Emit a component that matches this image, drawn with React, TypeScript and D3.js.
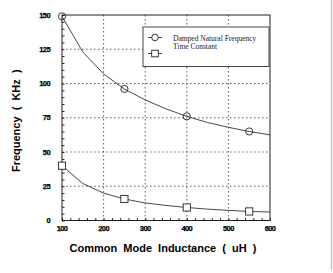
import React, { useEffect, useRef } from 'react';
import * as d3 from 'd3';

// inductance (uH) sampled along the curves
const lineX = [100, 150, 200, 250, 300, 350, 400, 450, 500, 550, 600];
const freqLine = [149, 123, 107, 96, 88, 81.5, 76, 71.5, 68, 65, 62.5];
const timeLine = [40, 27, 20, 15.7, 12.8, 11, 9.5, 8.3, 7.4, 6.6, 6.2];

// marker positions
const markerX = [100, 250, 400, 550];
const freqMarkers = [149, 96, 76, 65];
const timeMarkers = [40, 15.7, 9.5, 6.6];

const xTicks = [100, 200, 300, 400, 500, 600];
const yTicks = [0, 25, 50, 75, 100, 125, 150];
const legendLabels = ['Damped Natural Frequency', 'Time Constant'];

const SANS = 'Liberation Sans, Arial, sans-serif';

function App() {
  const ref = useRef<SVGSVGElement>(null);

  useEffect(() => {
    const svg = d3.select(ref.current);
    svg.selectAll('*').remove();

    const x = d3.scaleLinear().domain([100, 600]).range([62, 270]);
    const y = d3.scaleLinear().domain([0, 150]).range([220.5, 15]);

    // gray page edge on the right
    svg.append('line')
      .attr('x1', 331.5).attr('x2', 331.5).attr('y1', 0).attr('y2', 270)
      .attr('stroke', '#c4c4c4').attr('stroke-width', 1.5);

    const g = svg.append('g');

    // dotted grid
    g.selectAll('.gx').data(xTicks.slice(1, -1)).enter().append('line')
      .attr('x1', d => x(d)).attr('x2', d => x(d))
      .attr('y1', y(0)).attr('y2', y(150))
      .attr('stroke', '#333').attr('stroke-width', 0.8).attr('stroke-dasharray', '1.5,2.5');
    g.selectAll('.gy').data(yTicks.slice(1, -1)).enter().append('line')
      .attr('x1', x(100)).attr('x2', x(600))
      .attr('y1', d => y(d)).attr('y2', d => y(d))
      .attr('stroke', '#333').attr('stroke-width', 0.8).attr('stroke-dasharray', '1.5,2.5');

    // frame
    g.append('rect')
      .attr('x', x(100)).attr('y', y(150))
      .attr('width', x(600) - x(100)).attr('height', y(0) - y(150))
      .attr('fill', 'none').attr('stroke', '#222').attr('stroke-width', 1);

    // inward ticks
    const xAxis = d3.axisTop(x).tickValues(d3.range(100, 601, 20)).tickSize(2.5).tickFormat(() => '');
    g.append('g').attr('transform', `translate(0,${y(0)})`).call(xAxis)
      .call(s => s.select('.domain').remove())
      .call(s => s.selectAll('line').attr('stroke', '#222'));
    const yAxis = d3.axisRight(y).tickValues(d3.range(0, 151, 5)).tickSize(2.5).tickFormat(() => '');
    g.append('g').attr('transform', `translate(${x(100)},0)`).call(yAxis)
      .call(s => s.select('.domain').remove())
      .call(s => s.selectAll('line').attr('stroke', '#222'));

    // tick labels
    g.selectAll('.xl').data(xTicks).enter().append('text')
      .attr('x', d => x(d)).attr('y', y(0) + 10)
      .attr('text-anchor', 'middle').attr('letter-spacing', -0.6)
      .attr('font-family', SANS).attr('font-weight', 'bold').attr('font-size', 7.5)
      .attr('stroke', '#000').attr('stroke-width', 0.25)
      .text(d => d);
    g.selectAll('.yl').data(yTicks).enter().append('text')
      .attr('x', x(100) - 12).attr('y', d => y(d) + 2.5)
      .attr('text-anchor', 'end').attr('letter-spacing', -0.6)
      .attr('font-family', SANS).attr('font-weight', 'bold').attr('font-size', 7.5)
      .attr('stroke', '#000').attr('stroke-width', 0.25)
      .text(d => d);

    // titles
    svg.append('text')
      .attr('x', 163).attr('y', 251.5).attr('text-anchor', 'middle')
      .attr('font-family', SANS).attr('font-weight', 'bold').attr('font-size', 11)
      .attr('xml:space', 'preserve')
      .text('Common  Mode  Inductance  (  uH  )');
    svg.append('text')
      .attr('transform', `translate(20,${(y(0) + y(150)) / 2 + 3}) rotate(-90)`)
      .attr('text-anchor', 'middle')
      .attr('font-family', SANS).attr('font-weight', 'bold').attr('font-size', 11)
      .attr('xml:space', 'preserve')
      .text('Frequency  (  KHz  )');

    // curves
    const line = d3.line<number>().x((_, i) => x(lineX[i])).y(d => y(d));
    [freqLine, timeLine].forEach(vals => {
      g.append('path').attr('d', line(vals)).attr('fill', 'none')
        .attr('stroke', '#333').attr('stroke-width', 0.9);
    });

    g.selectAll('.cm').data(freqMarkers).enter().append('circle')
      .attr('cx', (_, i) => x(markerX[i])).attr('cy', d => y(d)).attr('r', 3.6)
      .attr('fill', 'none').attr('stroke', '#222').attr('stroke-width', 0.9);
    g.selectAll('.sm').data(timeMarkers).enter().append('rect')
      .attr('x', (_, i) => x(markerX[i]) - 3.6).attr('y', d => y(d) - 3.6)
      .attr('width', 7.2).attr('height', 7.2)
      .attr('fill', 'white').attr('stroke', '#222').attr('stroke-width', 0.9);

    // legend
    const lg = svg.append('g');
    lg.append('rect').attr('x', 143).attr('y', 27).attr('width', 126).attr('height', 39.5)
      .attr('fill', 'white').attr('stroke', '#444').attr('stroke-width', 1);
    legendLabels.forEach((t, i) => {
      const my = i === 0 ? 37.5 : 53.5;
      lg.append('line').attr('x1', 148).attr('x2', 162).attr('y1', my).attr('y2', my)
        .attr('stroke', '#333').attr('stroke-width', 0.9);
      if (i === 0) {
        lg.append('circle').attr('cx', 155).attr('cy', my).attr('r', 3.3)
          .attr('fill', 'white').attr('stroke', '#222').attr('stroke-width', 0.9);
      } else {
        lg.append('rect').attr('x', 151.7).attr('y', my - 3.3).attr('width', 6.6).attr('height', 6.6)
          .attr('fill', 'white').attr('stroke', '#222').attr('stroke-width', 0.9);
      }
      lg.append('text').attr('x', 173).attr('y', 41 + i * 8)
        .attr('font-family', 'Liberation Serif, Times New Roman, serif').attr('font-size', 7.5)
        .attr('fill', '#222')
        .text(t);
    });
  }, []);

  return (
    <svg ref={ref} width={333} height={273}
      style={{ position: 'absolute', left: 0, top: 0, background: 'white' }} />
  );
}

export default App;
